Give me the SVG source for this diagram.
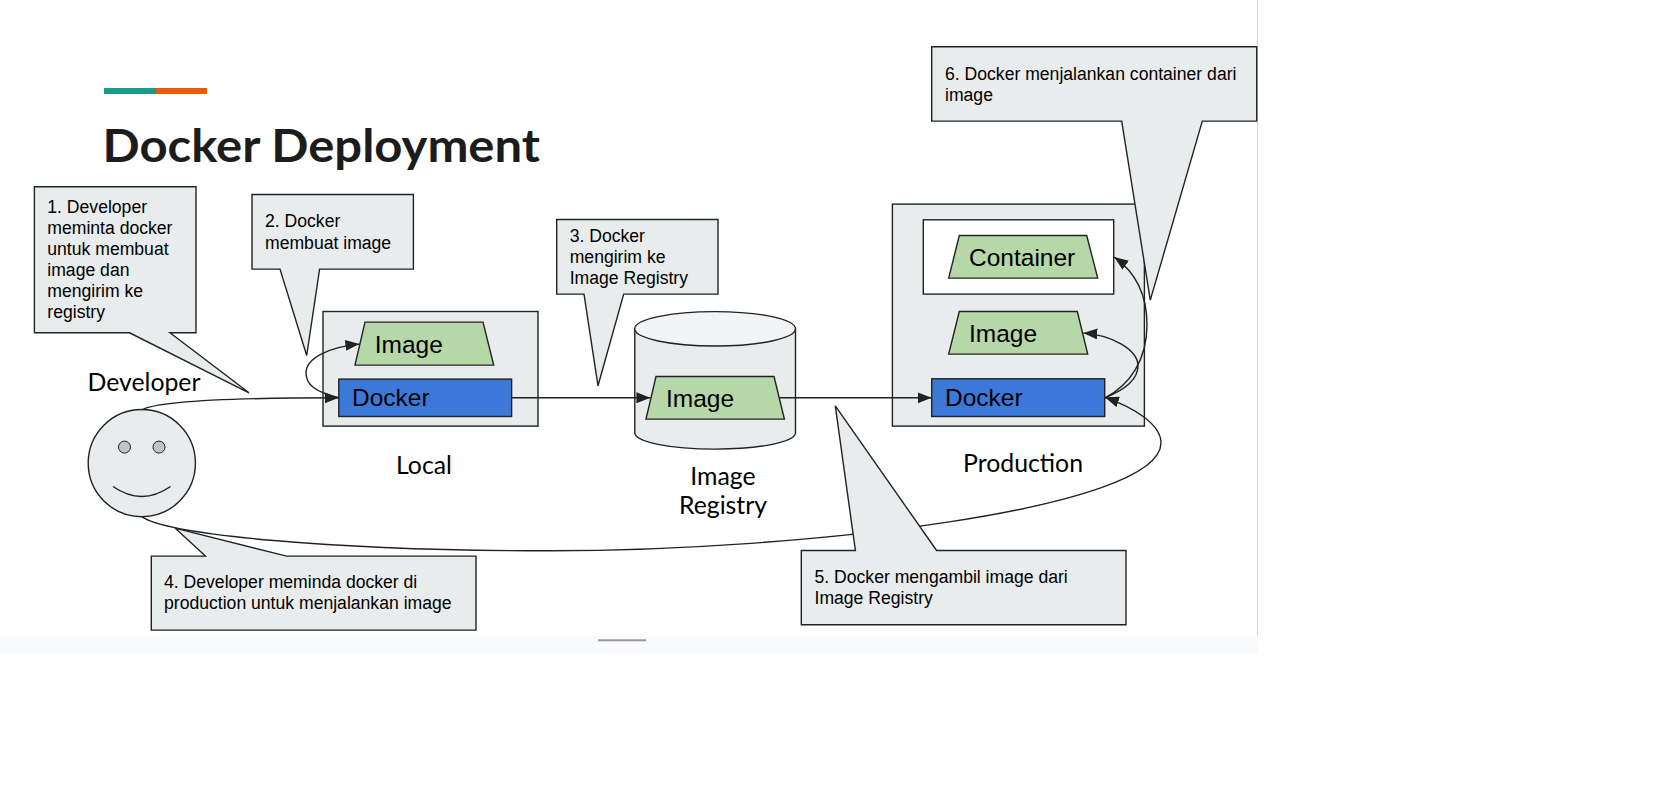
<svg xmlns="http://www.w3.org/2000/svg" width="1676" height="800" viewBox="0 0 1676 800">
<style>
.box{fill:#e9ecec;stroke:#222;stroke-width:1.4}
.green{fill:#b6d7a8;stroke:#222;stroke-width:1.4}
.blue{fill:#3c78d8;stroke:#222;stroke-width:1.4}
.wire{fill:none;stroke:#222;stroke-width:1.4}
.end{marker-end:url(#arrow)}
.note{font-family:"Liberation Sans",Arial,sans-serif;font-size:17.6px;fill:#000}
.shape{font-family:"Liberation Sans",Arial,sans-serif;font-size:24.5px;fill:#000}
.label{font-family:Lato,"Liberation Sans",sans-serif;font-size:24.8px;fill:#000}
.mid{text-anchor:middle}
</style>
<defs>
<marker id="arrow" markerUnits="userSpaceOnUse" markerWidth="15" markerHeight="11" refX="14" refY="5.5" orient="auto">
<path d="M0 0L14 5.5L0 11Z" fill="#222"/>
</marker>
</defs>
<rect x="1257" y="0" width="1" height="636" fill="#d4d4d4"/>
<rect x="0" y="635.5" width="1258" height="18" fill="#f9fafc"/>
<rect x="598" y="639.3" width="48" height="2" fill="#9a9a9a"/>
<g id="title">
<rect x="104" y="88" width="52" height="6" fill="#1a9b8a"/>
<rect x="156" y="88" width="51" height="6" fill="#e85d04"/>
<text x="102.5" y="162" font-family="Lato,'Liberation Sans',sans-serif" font-weight="700" font-size="46" fill="#1c1c1c" textLength="437.5" lengthAdjust="spacingAndGlyphs">Docker Deployment</text>
</g>
<g id="diagram" transform="translate(0,-0.2)">
<g id="local">
<rect class="box" x="323" y="311.7" width="215" height="114.6"/>
<text class="label mid" x="424" y="474.3">Local</text>
</g>
<g id="local-image">
<path class="green" d="M365 322.3H483L493.7 365.3H355Z"/>
<text class="shape" x="374.7" y="353">Image</text>
</g>
<g id="local-docker">
<rect class="blue" x="338.8" y="379.3" width="172.8" height="37.4"/>
<text class="shape" x="352" y="406">Docker</text>
</g>
<g id="registry">
<path class="box" d="M634.8 329V433C634.8 442 670 449.3 715 449.3S795.5 442 795.5 433V329Z"/>
<ellipse cx="715.1" cy="329" rx="80.4" ry="17.2" fill="#f3f4f5" stroke="#222" stroke-width="1.4"/>
<text class="label mid" x="723" y="485.7">Image</text>
<text class="label mid" x="723" y="514.3">Registry</text>
</g>
<g id="registry-image">
<path class="green" d="M656 376.7H774L784.4 419.3H646Z"/>
<text class="shape" x="666" y="407.3">Image</text>
</g>
<g id="production">
<rect class="box" x="892.4" y="204.3" width="252" height="222"/>
<text class="label mid" x="1023" y="472.7">Production</text>
</g>
<g id="container-box">
<rect x="923.3" y="220" width="190.4" height="74.3" fill="#fff" stroke="#222" stroke-width="1.4"/>
<path class="green" d="M959.3 235.7H1086.7L1097.7 278.3H948.7Z"/>
<text class="shape" x="969" y="266">Container</text>
</g>
<g id="production-image">
<path class="green" d="M959.3 311.7H1077.3L1087.7 354.3H948.7Z"/>
<text class="shape" x="969" y="342.7">Image</text>
</g>
<g id="production-docker">
<rect class="blue" x="931.7" y="379" width="173" height="37.7"/>
<text class="shape" x="945" y="406">Docker</text>
</g>
<g id="developer">
<circle cx="141.8" cy="463.3" r="53.6" class="box"/>
<ellipse cx="124.5" cy="447.3" rx="6" ry="6" fill="#c0c5c4" stroke="#222"/>
<ellipse cx="159" cy="447.3" rx="6" ry="6" fill="#c0c5c4" stroke="#222"/>
<path class="wire" d="M113 486.7Q141.8 506.7 170.5 486.7"/>
<text class="label" x="87.5" y="391">Developer</text>
</g>
<g id="connectors">
<path class="wire end" d="M142 410C160 400 250 398 338.8 398"/>
<path class="wire end" d="M338.8 398C315 392 306 385 306 373C306 358 330 347 359.4 344.3"/>
<path class="wire end" d="M511.6 398H650.4"/>
<path class="wire end" d="M779.5 398H931.7"/>
<path class="wire end" d="M142 517C170 535 330 551 550 551C800 551 1161 510 1161 443C1161 425 1135 408 1105 397.5"/>
<path class="wire end" d="M1105 398C1125 390 1138 380 1138 366C1138 350 1112 335 1083.3 333.3"/>
<path class="wire end" d="M1105 398C1130 385 1147 360 1147 325C1147 295 1135 272 1114.3 257.3"/>
</g>
<g id="callout-1">
<path class="box" d="M34.4 187H196V333H170L249 393L129.5 333H34.4Z"/>
<text class="note" x="47.3" y="213.5">1. Developer</text>
<text class="note" x="47.3" y="234.5">meminta docker</text>
<text class="note" x="47.3" y="255.5">untuk membuat</text>
<text class="note" x="47.3" y="276.5">image dan</text>
<text class="note" x="47.3" y="297.5">mengirim ke</text>
<text class="note" x="47.3" y="318.5">registry</text>
</g>
<g id="callout-2">
<path class="box" d="M252 194.7H413.4V269.3H319.6L306.7 355.7L280 269.3H252Z"/>
<text class="note" x="265" y="227.7">2. Docker</text>
<text class="note" x="265" y="249">membuat image</text>
</g>
<g id="callout-3">
<path class="box" d="M556.7 219.7H718V294.3H623.7L598 386L584 294.3H556.7Z"/>
<text class="note" x="569.7" y="242">3. Docker</text>
<text class="note" x="569.7" y="263.3">mengirim ke</text>
<text class="note" x="569.7" y="284.5">Image Registry</text>
</g>
<g id="callout-4">
<path class="box" d="M151.3 556.3H205.4L175 528.3L286.6 556.3H476V630.3H151.3Z"/>
<text class="note" x="164" y="588.3">4. Developer meminda docker di</text>
<text class="note" x="164" y="609.5">production untuk menjalankan image</text>
</g>
<g id="callout-5">
<path class="box" d="M801.3 550.7H855.4L835.3 406L936.6 550.7H1126V625H801.3Z"/>
<text class="note" x="814.5" y="583.3">5. Docker mengambil image dari</text>
<text class="note" x="814.5" y="604.5">Image Registry</text>
</g>
<g id="callout-6">
<path class="box" d="M931.7 47H1256.7V121.3H1202.3L1150.3 300.3L1121.7 121.3H931.7Z"/>
<text class="note" x="945" y="80">6. Docker menjalankan container dari</text>
<text class="note" x="945" y="101">image</text>
</g>
</g>
</svg>
